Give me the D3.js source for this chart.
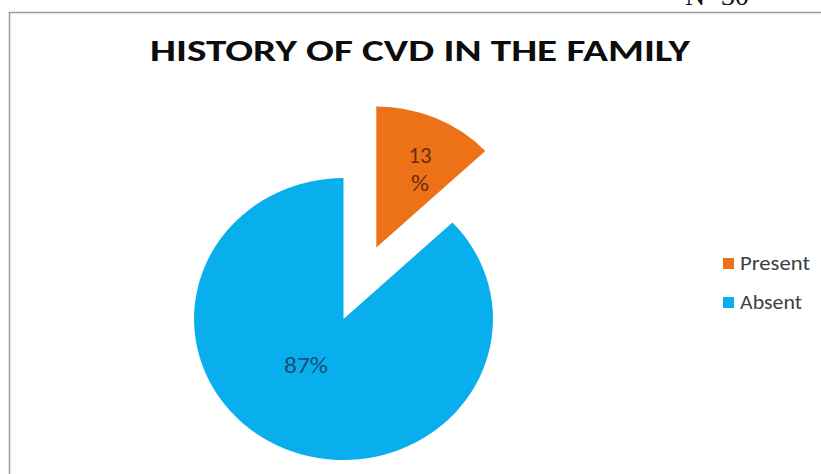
<!DOCTYPE html>
<html>
<head>
<meta charset="utf-8">
<script src="https://cdn.jsdelivr.net/npm/d3@7"></script>
<style>
  html, body { margin: 0; padding: 0; background: #fff; }
  svg { display: block; }
</style>
</head>
<body>
<svg id="chart" width="821" height="474"></svg>
<script>
// Family history of cardiovascular disease (N=30)
const categories = ["Present", "Absent"];
const percents = [13, 87];
const labelLines = [["13", "%"], ["87%"]];
const colors = ["#EC7117", "#08AFEC"];
const labelColors = ["#6a2e0c", "#154e7c"];

const title = "HISTORY OF CVD IN THE FAMILY";
const sampleNote = "N=30";

const W = 821, H = 474;
const svg = d3.select("#chart");
const font = "Carlito, Lato, 'Open Sans', sans-serif";

// sample size note above the frame (partly cut off at the top)
svg.append("text")
  .attr("x", 717).attr("y", 5)
  .attr("text-anchor", "middle")
  .attr("font-family", "'Liberation Serif', 'DejaVu Serif', serif")
  .attr("font-size", 28)
  .attr("fill", "#111")
  .text(sampleNote);

// chart frame
svg.append("rect")
  .attr("x", 9.5).attr("y", 12.5)
  .attr("width", W + 10).attr("height", H + 10)
  .attr("fill", "#fff")
  .attr("stroke", "#9a9a9a")
  .attr("stroke-width", 1.5);

// title, stretched to the chart's wide bold heading
svg.append("text")
  .attr("x", 420).attr("y", 61)
  .attr("text-anchor", "middle")
  .attr("font-family", font)
  .attr("font-weight", "bold")
  .attr("font-size", 30)
  .attr("textLength", 540)
  .attr("lengthAdjust", "spacingAndGlyphs")
  .attr("fill", "#0d0d0d")
  .text(title);

// pie layout
const cx = 343.5, cy = 319, radius = 141, xStretch = 1.06, explode = 78;
const pie = d3.pie().sort(null).value(d => d)(percents);
const arc = d3.arc().innerRadius(0).outerRadius(radius);

// label placement per slice: [angle (rad), distance from slice centre]
const labelPolar = [[28 * Math.PI / 180, 88], [217.6 * Math.PI / 180, 58]];
const labelWidths = [[23, 18], [44]];

const pieG = svg.append("g").attr("transform", `translate(${cx},${cy})`);

pie.forEach((p, i) => {
  const mid = (p.startAngle + p.endAngle) / 2;
  const off = i === 0 ? explode : 0;
  const [ox, oy] = d3.pointRadial(mid, off);
  pieG.append("path")
    .attr("d", arc(p))
    .attr("transform", `scale(${xStretch},1) translate(${ox},${oy})`)
    .attr("fill", colors[i]);

  const [lx, ly] = d3.pointRadial(labelPolar[i][0], labelPolar[i][1]);
  const tx = (ox + lx) * xStretch, ty = oy + ly;
  const lines = labelLines[i];
  const lh = 28;
  lines.forEach((s, k) => {
    pieG.append("text")
      .attr("x", tx)
      .attr("y", ty + (k - (lines.length - 1) / 2) * lh)
      .attr("dy", "0.35em")
      .attr("text-anchor", "middle")
      .attr("font-family", font)
      .attr("font-size", 22)
      .attr("textLength", labelWidths[i][k])
      .attr("lengthAdjust", "spacingAndGlyphs")
      .attr("fill", labelColors[i])
      .text(s);
  });
});

// legend
const legendWidths = [70, 62];
const legend = svg.append("g").attr("transform", "translate(723,258)");
categories.forEach((c, i) => {
  const g = legend.append("g").attr("transform", `translate(0,${i * 39})`);
  g.append("rect").attr("width", 11).attr("height", 11).attr("fill", colors[i]);
  g.append("text")
    .attr("x", 17).attr("y", 12)
    .attr("font-family", font)
    .attr("font-size", 21)
    .attr("textLength", legendWidths[i])
    .attr("lengthAdjust", "spacingAndGlyphs")
    .attr("fill", "#404040")
    .text(c);
});
</script>
</body>
</html>
